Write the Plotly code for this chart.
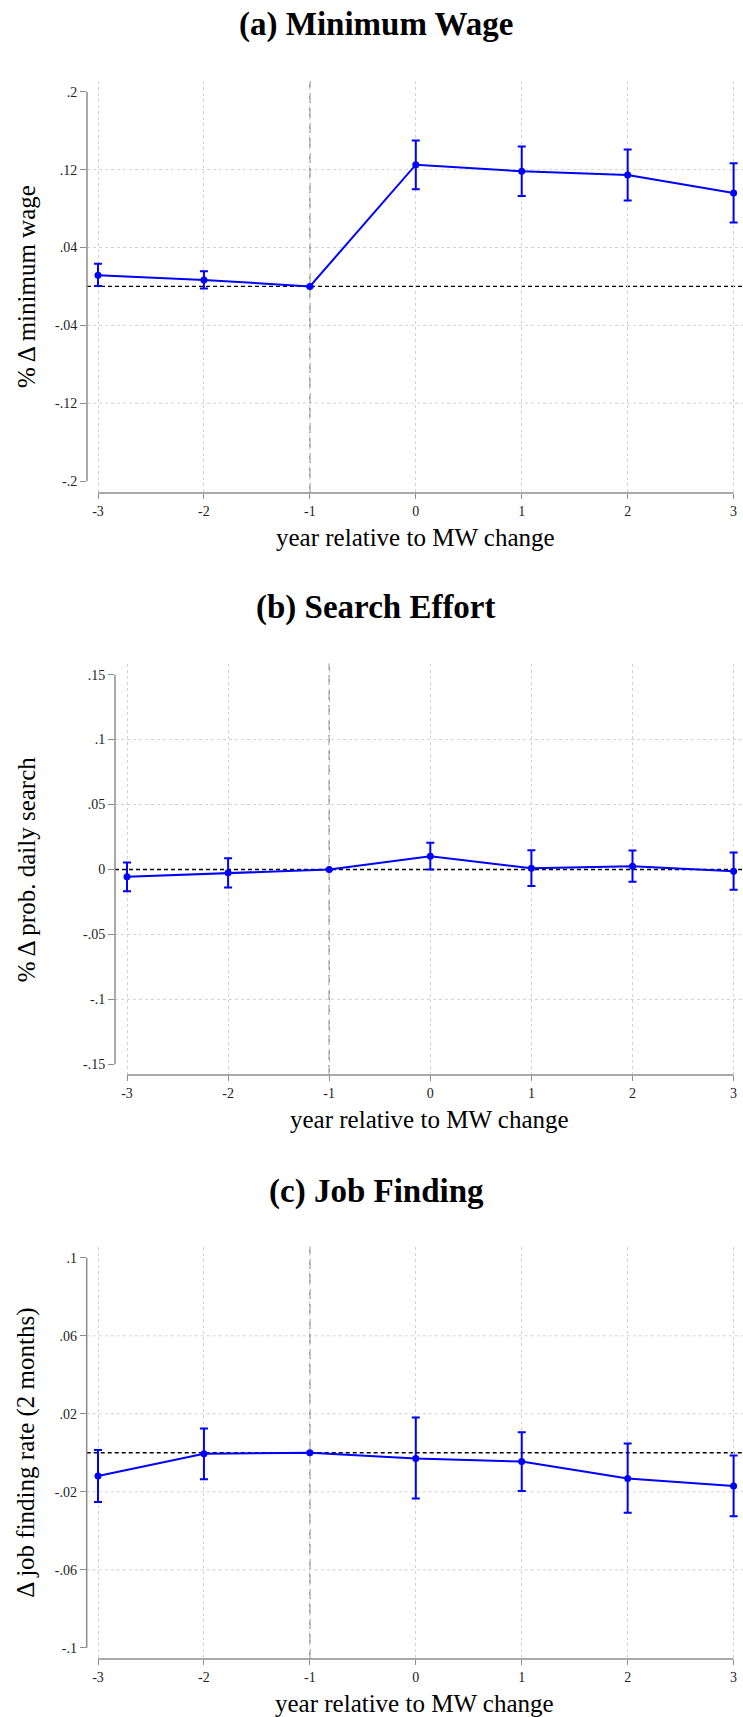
import plotly.graph_objects as go

W, H = 743, 1717

years = [-3, -2, -1, 0, 1, 2, 3]
x_ticktext = ["-3", "-2", "-1", "0", "1", "2", "3"]

# (a) Minimum wage
a_pt = [0.0115, 0.0067, 0.0, 0.1251, 0.1183, 0.1145, 0.0960]
a_hi = [0.0232, 0.0157, None, 0.1500, 0.1439, 0.1408, 0.1265]
a_lo = [0.0003, -0.0022, None, 0.0998, 0.0929, 0.0882, 0.0656]
a_ticks = [-0.2, -0.12, -0.04, 0.04, 0.12, 0.2]
a_ticktext = ["-.2", "-.12", "-.04", ".04", ".12", ".2"]

# (b) Search effort
b_pt = [-0.0056, -0.0026, 0.0, 0.0102, 0.0010, 0.0025, -0.0013]
b_hi = [0.0054, 0.0087, None, 0.0205, 0.0149, 0.0146, 0.0131]
b_lo = [-0.0167, -0.0138, None, 0.0000, -0.0128, -0.0095, -0.0156]
b_ticks = [-0.15, -0.1, -0.05, 0, 0.05, 0.1, 0.15]
b_ticktext = ["-.15", "-.1", "-.05", "0", ".05", ".1", ".15"]

# (c) Job finding
c_pt = [-0.0119, -0.0005, 0.0, -0.0029, -0.0045, -0.0132, -0.0170]
c_hi = [0.0014, 0.0125, None, 0.0181, 0.0106, 0.0048, -0.0014]
c_lo = [-0.0252, -0.0136, None, -0.0235, -0.0196, -0.0308, -0.0326]
c_ticks = [-0.1, -0.06, -0.02, 0.02, 0.06, 0.1]
c_ticktext = ["-.1", "-.06", "-.02", ".02", ".06", ".1"]

titles = ["(a) Minimum Wage", "(b) Search Effort", "(c) Job Finding"]
ytitles = ["% \u0394 minimum wage", "% \u0394 prob. daily search", "\u0394 job finding rate (2 months)"]
xtitle = "year relative to MW change"

FONT = "Liberation Serif"
BLUE = "#0000ff"
AXGRAY = "#8c8c8c"
GRID = "#d2d2d2"

# layout geometry (pixels)
panels = [
    dict(pt=a_pt, hi=a_hi, lo=a_lo, ticks=a_ticks, ticktext=a_ticktext,
         left=87, top=81, bottom=493, xr=[-3.1038, 3.0887], yr=[-0.2123, 0.2111],
         title_y=25, xlab_y=537),
    dict(pt=b_pt, hi=b_hi, lo=b_lo, ticks=b_ticks, ticktext=b_ticktext,
         left=115, top=663.6, bottom=1075, xr=[-3.1187, 3.093], yr=[-0.1582, 0.1585],
         title_y=608, xlab_y=1119),
    dict(pt=c_pt, hi=c_hi, lo=c_lo, ticks=c_ticks, ticktext=c_ticktext,
         left=86.7, top=1246.7, bottom=1658.9, xr=[-3.1067, 3.0887], yr=[-0.1057, 0.1057],
         title_y=1191.5, xlab_y=1703),
]

fig = go.Figure()
shapes = []
annotations = []

for i, p in enumerate(panels):
    n = "" if i == 0 else str(i + 1)
    xa, ya = "x" + n, "y" + n
    up = [(h - v) if h is not None else None for h, v in zip(p["hi"], p["pt"])]
    dn = [(v - l) if l is not None else None for l, v in zip(p["lo"], p["pt"])]
    fig.add_trace(go.Scatter(
        x=years, y=p["pt"], mode="lines+markers", xaxis=xa, yaxis=ya,
        line=dict(color=BLUE, width=2), marker=dict(color=BLUE, size=7),
        error_y=dict(type="data", symmetric=False, array=up, arrayminus=dn,
                     color=BLUE, thickness=2, width=4),
        cliponaxis=False, showlegend=False, hoverinfo="skip"))

    xdom = [p["left"] / W, 1.0]
    ydom = [1 - p["bottom"] / H, 1 - p["top"] / H]
    fig.update_layout(**{
        "xaxis" + n: dict(domain=xdom, range=p["xr"], anchor=ya,
                          tickvals=years, ticktext=x_ticktext, ticks="outside",
                          ticklen=5, tickcolor=AXGRAY, tickwidth=1.2,
                          showgrid=True, gridcolor=GRID, griddash="dot", gridwidth=1,
                          zeroline=False, showline=False,
                          tickfont=dict(family=FONT, size=14, color="#222")),
        "yaxis" + n: dict(domain=ydom, range=p["yr"], anchor=xa,
                          tickvals=p["ticks"], ticktext=p["ticktext"], ticks="outside",
                          ticklen=6, tickcolor=AXGRAY, tickwidth=1.2,
                          showgrid=False, zeroline=False, showline=False,
                          tickfont=dict(family=FONT, size=14, color="#222")),
    })

    # inner horizontal gridlines (Stata omits gridlines at the axis ends)
    for t in p["ticks"][1:-1]:
        if t == 0:
            continue
        shapes.append(dict(type="line", xref=xa + " domain", yref=ya, x0=0, x1=1, y0=t, y1=t,
                           line=dict(color=GRID, width=1, dash="dot"), layer="below"))
    # axis lines
    shapes.append(dict(type="line", xref=xa + " domain", yref=ya, x0=0, x1=0,
                       y0=p["ticks"][0], y1=p["ticks"][-1],
                       line=dict(color=AXGRAY, width=1.5), layer="above"))
    shapes.append(dict(type="line", xref=xa, yref=ya + " domain", x0=years[0], x1=years[-1],
                       y0=0, y1=0, line=dict(color=AXGRAY, width=1.5), layer="above"))
    # reference lines
    shapes.append(dict(type="line", xref=xa, yref=ya + " domain", x0=-1, x1=-1, y0=0, y1=1,
                       line=dict(color="#8a8a8a", width=1.3, dash="10px,5px"), layer="below"))
    shapes.append(dict(type="line", xref=xa + " domain", yref=ya, x0=0, x1=1, y0=0, y1=0,
                       line=dict(color="black", width=1.4, dash="4px,3px"), layer="below"))

    annotations.append(dict(text="<b>" + titles[i] + "</b>", xref="paper", yref="paper",
                            x=376 / W, y=1 - p["title_y"] / H, xanchor="center", yanchor="middle",
                            showarrow=False, font=dict(family=FONT, size=33, color="black")))
    annotations.append(dict(text=xtitle, xref=xa + " domain", yref="paper",
                            x=0.5, y=1 - p["xlab_y"] / H, xanchor="center", yanchor="middle",
                            showarrow=False, font=dict(family=FONT, size=25, color="black")))
    annotations.append(dict(text=ytitles[i], xref="paper", yref=ya + " domain",
                            x=26 / W, y=0.5, xanchor="center", yanchor="middle", textangle=-90,
                            showarrow=False, font=dict(family=FONT, size=25, color="black")))

fig.update_layout(width=W, height=H, margin=dict(l=0, r=0, t=0, b=0),
                  paper_bgcolor="white", plot_bgcolor="white",
                  shapes=shapes, annotations=annotations, showlegend=False)

fig.write_html("out.html")
